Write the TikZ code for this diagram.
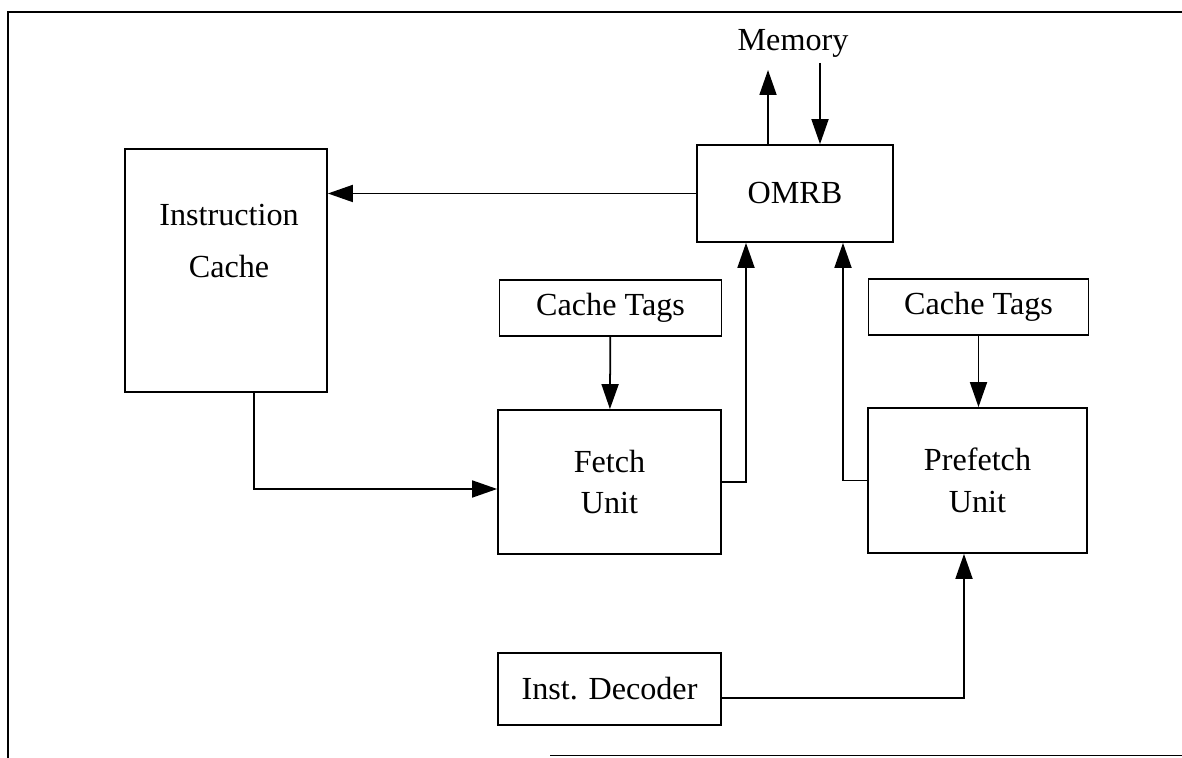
\documentclass[tikz,border=0pt]{standalone}
\usepackage{fontspec}
\setmainfont{Liberation Serif}
\usetikzlibrary{positioning,arrows.meta,calc}

\begin{document}
\begin{tikzpicture}[
  blk/.style={draw, rectangle, line width=1pt, inner sep=0pt, align=center, font=\fontsize{18.3}{23}\selectfont},
  lbl/.style={inner sep=0pt, align=center, font=\fontsize{18.3}{23}\selectfont},
  arrow/.style={-{Triangle[length=0.5cm, width=0.34cm]}, line width=1pt},
]
\useasboundingbox (0,0) rectangle (23.64,15.16);
% --- page frame ---
\draw[line width=1pt] (0.16,0) -- (0.16,14.92) -- (23.64,14.92);
\draw[line width=1pt] (11.0,0.05) -- (23.64,0.05);
% --- blocks ---
\node[blk, minimum width=4.04cm, minimum height=4.86cm] (icache) at (4.52,9.75) {};
\node[lbl, font=\fontsize{18.3}{29.6}\selectfont] (icachetxt) at (4.58,10.34) {Instruction\\Cache};
\node[blk, minimum width=3.92cm, minimum height=1.94cm] (omrb) at (15.9,11.29) {OMRB};
\node[lbl] (mem) at (15.86,14.3) {Memory};
\node[blk, minimum width=4.44cm, minimum height=1.13cm] (tagsf) at (12.21,9.0) {Cache Tags};
\node[blk, minimum width=4.4cm, minimum height=1.13cm] (tagsp) at (19.57,9.02) {Cache Tags};
\node[blk, minimum width=4.46cm, minimum height=2.88cm] (fetch) at (12.19,5.52) {Fetch\\Unit};
\node[blk, minimum width=4.38cm, minimum height=2.9cm] (prefetch) at (19.55,5.55) {Prefetch\\[1pt]Unit};
\node[blk, minimum width=4.46cm, minimum height=1.44cm] (dec) at (12.19,1.38) {Inst. Decoder};
% --- memory port ---
\coordinate (memout) at (15.36,13.76);
\coordinate (memin) at (16.4,13.9);
\draw[arrow] (omrb.north -| memout) -- (memout);
\draw[arrow] (memin) -- (omrb.north -| memin);
% --- connectors ---
\draw[arrow] (omrb.west) -- (omrb.west -| icache.east);
\draw[arrow] ([xshift=0.56cm]icache.south) |- ([yshift=-0.14cm]fetch.west);
\draw[arrow] (tagsf) -- (fetch);
\draw[arrow] (tagsp) -- (prefetch.north -| tagsp.south);
\draw[arrow] (fetch.east) -| ([xshift=-0.98cm]omrb.south);
\draw[arrow] (prefetch.west) -| ([xshift=0.96cm]omrb.south);
\draw[arrow] ([yshift=-0.18cm]dec.east) -| ([xshift=-0.27cm]prefetch.south);
\end{tikzpicture}
\end{document}
